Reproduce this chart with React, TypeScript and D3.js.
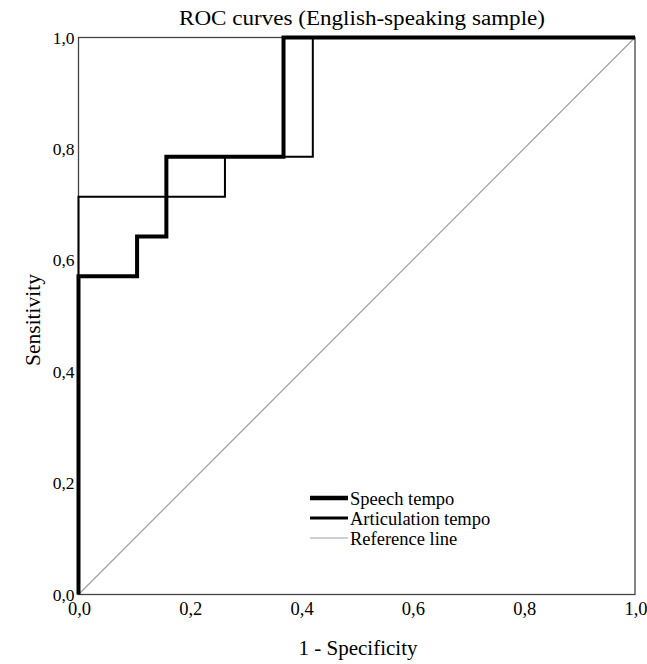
import React from "react";
import * as d3 from "d3";

// ROC points (1 - specificity, sensitivity)
const speechFpr = [0, 0, 2 / 19, 2 / 19, 3 / 19, 3 / 19, 7 / 19, 7 / 19, 1];
const speechTpr = [0, 8 / 14, 8 / 14, 9 / 14, 9 / 14, 11 / 14, 11 / 14, 1, 1];
const articFpr = [0, 0, 5 / 19, 5 / 19, 8 / 19, 8 / 19, 1];
const articTpr = [0, 10 / 14, 10 / 14, 11 / 14, 11 / 14, 1, 1];
const refFpr = [0, 1];
const refTpr = [0, 1];
const ticks = [0, 0.2, 0.4, 0.6, 0.8, 1.0];
const legendLabels = ["Speech tempo", "Articulation tempo", "Reference line"];

const W = 647;
const H = 664;
const margin = { left: 78.5, right: 12, top: 37.5, bottom: 69.5 };

const fmt = (v: number) => v.toFixed(1).replace(".", ",");
const font = { fontFamily: "Liberation Serif" };

export default function App() {
  const x = d3.scaleLinear().domain([0, 1]).range([margin.left, W - margin.right]);
  const y = d3.scaleLinear().domain([0, 1]).range([H - margin.bottom, margin.top]);

  const line = d3
    .line<[number, number]>()
    .x((d) => x(d[0]))
    .y((d) => y(d[1]));

  const pts = (a: number[], b: number[]) => a.map((v, i) => [v, b[i]] as [number, number]);

  // curve styles: thick, thin, grey reference (lw = legend swatch width)
  const series = [
    { pts: pts(speechFpr, speechTpr), w: 4, lw: 4.5, c: "#000" },
    { pts: pts(articFpr, articTpr), w: 2, lw: 3, c: "#000" },
    { pts: pts(refFpr, refTpr), w: 1.2, lw: 1.2, c: "#a0a0a0" },
  ];

  return (
    <svg width={W} height={H} style={{ position: "absolute", left: 0, top: 0, background: "#fff" }}>
      <text x={362} y={25} textAnchor="middle" fontSize={20} textLength={366} lengthAdjust="spacingAndGlyphs" style={font}>
        ROC curves (English-speaking sample)
      </text>
      {/* frame */}
      <rect
        x={x(0)}
        y={y(1)}
        width={x(1) - x(0)}
        height={y(0) - y(1)}
        fill="none"
        stroke="#444"
        strokeWidth={1.3}
      />
      {/* reference line first, then curves */}
      <path d={line(series[2].pts) || ""} fill="none" stroke={series[2].c} strokeWidth={series[2].w} />
      <path d={line(series[1].pts) || ""} fill="none" stroke={series[1].c} strokeWidth={series[1].w} />
      <path d={line(series[0].pts) || ""} fill="none" stroke={series[0].c} strokeWidth={series[0].w} />

      {ticks.map((t) => (
        <text key={"y" + t} x={x(0) - 4} y={y(t) + 6} textAnchor="end" fontSize={17.5} style={font}>
          {fmt(t)}
        </text>
      ))}
      {ticks.map((t) => (
        <text key={"x" + t} x={x(t) + 1} y={615} textAnchor="middle" fontSize={18.5} style={font}>
          {fmt(t)}
        </text>
      ))}

      <text x={358} y={655} textAnchor="middle" fontSize={21} style={font}>
        1 - Specificity
      </text>
      <text
        transform={`translate(40,320) rotate(-90)`}
        textAnchor="middle"
        fontSize={21.5}
        style={font}
      >
        Sensitivity
      </text>

      {legendLabels.map((lab, i) => (
        <g key={lab} transform={`translate(310,${498 + i * 20})`}>
          <line x1={0} x2={38} y1={0} y2={0} stroke={series[i].c} strokeWidth={series[i].lw} />
          <text x={40} y={6.5} fontSize={18.5} style={font}>
            {lab}
          </text>
        </g>
      ))}
    </svg>
  );
}
